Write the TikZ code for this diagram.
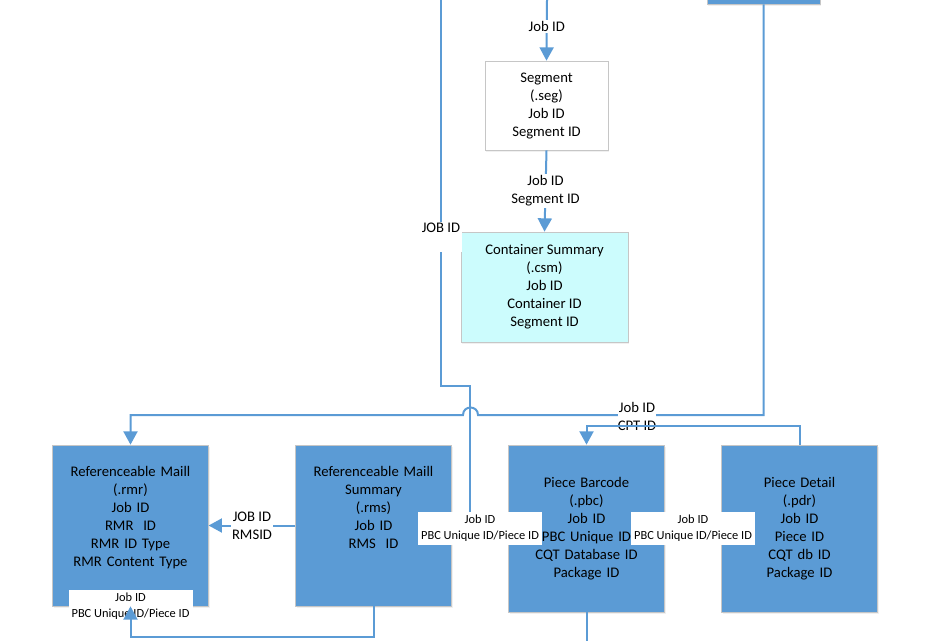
\documentclass[tikz,border=0pt]{standalone}
\usepackage{fontspec}
\setmainfont{Carlito}
\usepackage{tikz}
\usetikzlibrary{positioning, arrows.meta, shadows}
\definecolor{boxblue}{RGB}{91,155,213}
\definecolor{lineblue}{RGB}{91,155,213}
\definecolor{csmcyan}{RGB}{204,252,253}
\tikzstyle{arrow} = [draw=lineblue, line width=1.5pt, -{Triangle[width=10.5pt,length=10pt]}]
\tikzstyle{line} = [draw=lineblue, line width=1.5pt]
\tikzstyle{tablebox} = [rectangle, draw=gray!45, line width=0.5pt, align=center, font=\fontsize{11}{13.5}\selectfont, drop shadow={shadow xshift=1pt, shadow yshift=-1.5pt, opacity=0.12}]
\tikzstyle{bluebox} = [tablebox, fill=boxblue, minimum width=114.75pt, text width=110pt]
\tikzstyle{keylabel} = [fill=white, align=center, inner sep=1pt, font=\fontsize{11}{13.5}\selectfont]
\tikzstyle{idlabel} = [fill=white, align=center, inner sep=0pt, minimum width=93pt, minimum height=24.75pt, font=\fontsize{9.3}{12}\selectfont]

\begin{document}
\begin{tikzpicture}[x=0.75pt, y=-0.75pt]
        \clip (0,0) rectangle (952,640);
        \node[tablebox, fill=boxblue, minimum width=84.75pt, minimum height=36pt] (topbox) at (763.5,-20) {};
        \node[tablebox, fill=white, minimum width=92.25pt, minimum height=66.75pt] (seg) at (546.5,105.5) {Segment\\(.seg)\\Job ID\\Segment ID};
        \node[tablebox, fill=csmcyan, minimum width=125.25pt, minimum height=82.5pt] (csm) at (544.5,287) {Container Summary\\(.csm)\\Job ID\\Container ID\\Segment ID};
        \node[bluebox, minimum height=120.75pt] (rmr) at (130.5,525.5) {Referenceable Maill\\(.rmr)\\Job ID\\RMR~~ID\\RMR ID Type\\RMR Content Type\\~};
        \node[bluebox, minimum height=120.75pt] (rms) at (373.5,525.5) {Referenceable Maill\\Summary\\(.rms)\\Job ID\\RMS~~ID\\~\\~};
        \node[bluebox, minimum height=125.25pt] (pbc) at (586.5,528.5) {Piece Barcode\\(.pbc)\\Job ID\\PBC Unique ID\\CQT Database ID\\Package ID};
        \node[bluebox, minimum height=125.25pt] (pdr) at (799.5,528.5) {Piece Detail\\(.pdr)\\Job ID\\Piece ID\\CQT db ID\\Package ID};

        \coordinate (jobin) at (441,0);
        \coordinate (segin) at (547,0);
        \coordinate (pbcout) at (586.5,650);

        \draw[arrow] (segin) -- (seg.north) node[pos=0.43, keylabel] {Job ID};
        \draw[arrow] (seg.south) -- (csm.north) node[midway, keylabel] {Job ID\\Segment ID};
        \draw[arrow] (jobin) -- (441,386) -- (470,386) -- (470,528.5) -- (pbc.west);
        \node[keylabel] (jobidlbl) at (441,237) {JOB ID\\\mbox{}};
        \draw[arrow] (topbox.south) -- (763.5,415) -- (478,415) .. controls (478,405) and (463,405) .. (463,415) -| (rmr.north);
        \node[keylabel, inner sep=0pt] (cptlbl) at (637,416) {Job ID\\CPT ID};
        \draw[arrow] (pdr.north) -- ++(0,-19) -| (pbc.north);
        \draw[arrow] (rms.west) -- (rmr.east) node[midway, keylabel] {JOB ID\\RMSID};
        \draw[arrow] (pdr.west) -- (pbc.east);
        \draw[line] (pbc.south) -- (pbcout);

        \node[idlabel] (rmrlbl) at (130.5,606.5) {Job ID\\PBC Unique ID/Piece ID};
        \node[idlabel] (rmslbl) at (480,528.5) {Job ID\\PBC Unique ID/Piece ID};
        \node[idlabel] (pdrlbl) at (693,528.5) {Job ID\\PBC Unique ID/Piece ID};
        \draw[arrow] (rms.south) -- ++(0,31) -| (rmr.south);
        \end{tikzpicture}
\end{document}
